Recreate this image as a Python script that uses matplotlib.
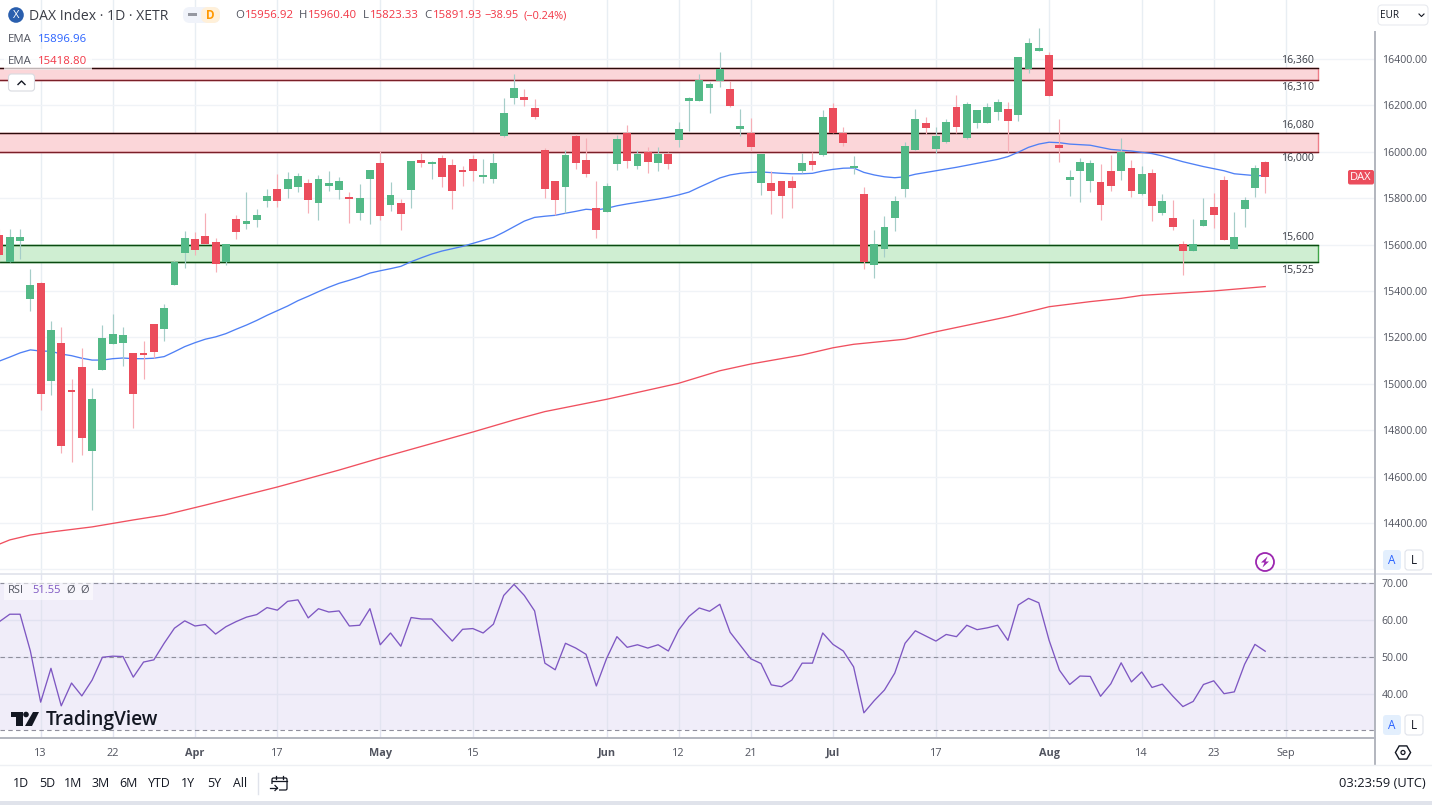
import matplotlib
matplotlib.use("Agg")
import math
import matplotlib.pyplot as plt
from matplotlib.patches import Rectangle, Circle, FancyBboxPatch, Polygon, RegularPolygon
from matplotlib.lines import Line2D
from matplotlib.transforms import Affine2D

plt.rcParams['font.family'] = ['Open Sans', 'DejaVu Sans']

# ---------------- data ----------------
opens = [15641,15525,15615,15365,15434,15012,15176,14973,15072,14710,
         15059,15171,15176,15133,15133,15258,15236,15426,15564,15624,
         15637,15611,15525,15710,15689,15706,15788,15839,15839,15848,
         15865,15779,15852,15835,15805,15736,15883,15951,15770,15779,
         15835,15964,15947,15973,15943,15917,15969,15891,15883,16068,
         16232,16236,16188,16008,15874,15848,16068,15964,15757,15740,
         15947,16081,15939,15999,15951,15990,16051,16219,16219,16275,
         16305,16270,16098,16081,15865,15865,15874,15874,15917,15960,
         15986,16188,16081,15930,15818,15512,15581,15714,15839,16008,
         16124,16012,16042,16193,16059,16124,16124,16171,16184,16158,
         16357,16434,16417,16029,15878,15917,15874,15870,15917,15917,
         15930,15818,15908,15736,15714,15602,15572,15680,15762,15878,
         15581,15753,15844,15956.92]
highs = [15667,15667,15667,15495,15439,15271,15245,15020,15154,14982,
         15253,15301,15245,15133,15184,15258,15344,15533,15658,15654,
         15736,15628,15602,15727,15826,15753,15839,15904,15913,15908,
         15883,15900,15917,15891,15826,15861,15921,16003,15870,15796,
         15960,15995,15960,15986,15969,15939,15986,15969,15995,16232,
         16335,16270,16227,16016,15874,16008,16076,16059,15874,15865,
         16072,16115,16008,16020,16020,15999,16128,16236,16335,16301,
         16430,16305,16184,16145,15990,15917,15874,15895,15995,15999,
         16180,16210,16107,15982,15848,15663,15723,15809,16042,16184,
         16150,16107,16141,16245,16214,16180,16210,16227,16214,16408,
         16490,16533,16430,16141,15921,15973,15964,15947,15986,16059,
         15964,15939,15926,15818,15792,15615,15710,15801,15822,15895,
         15740,15805,15943,15960.40]
lows = [15525,15525,15538,15314,14887,14952,14702,14663,14693,14456,
        15059,15171,15077,14809,15020,15111,15184,15426,15499,15555,
        15602,15482,15512,15624,15667,15676,15762,15762,15801,15826,
        15736,15706,15831,15796,15693,15706,15689,15706,15745,15663,
        15757,15934,15883,15848,15753,15852,15874,15865,15865,16064,
        16206,16197,16141,15801,15727,15736,15926,15891,15628,15740,
        15921,15930,15926,15908,15917,15926,16020,16089,16219,16167,
        16279,16193,16068,16003,15814,15732,15714,15757,15908,15921,
        15982,16081,16025,15904,15495,15456,15546,15658,15805,16008,
        16076,15995,16038,16081,16055,16102,16124,16137,15999,16132,
        16339,16434,16240,15956,15809,15783,15826,15706,15831,15878,
        15805,15814,15701,15727,15663,15469,15572,15680,15671,15620,
        15581,15676,15805,15823.33]
closes = [15555,15632,15632,15426,14956,15232,14732,14965,14766,14934,
          15197,15214,15210,14956,15124,15137,15327,15525,15628,15576,
          15602,15516,15602,15654,15701,15727,15809,15788,15883,15895,
          15792,15883,15865,15874,15796,15801,15921,15723,15814,15732,
          15960,15951,15956,15891,15831,15913,15917,15900,15951,16167,
          16275,16223,16150,15839,15792,15986,15951,15904,15663,15852,
          16055,15960,15990,15956,15990,15947,16098,16232,16309,16292,
          16357,16197,16111,16020,15990,15831,15809,15844,15951,15943,
          16150,16081,16038,15934,15525,15602,15676,15788,16025,16141,
          16102,16068,16128,16107,16206,16180,16193,16214,16132,16408,
          16469,16447,16240,16016,15891,15956,15951,15770,15852,15999,
          15831,15904,15766,15788,15676,15572,15602,15706,15727,15620,
          15632,15792,15930,15891.93]

ema_blue_idx = [0,1,2,3,4,5,6,7,8,9,10,11,12,13,14,15,16,17,18,19,
                20,21,22,23,24,25,26,27,28,29,30,31,32,33,34,35,36,37,38,39,
                40,41,42,43,44,45,46,47,48,49,50,51,52,53,54,55,56,57,58,59,
                60,61,62,63,64,65,66,67,68,69,70,71,72,73,74,75,76,77,78,79,
                80,81,82,83,84,85,86,87,88,89,91,93,95,97,98,99,100,101,102,103,
                104,106,108,110,112,113,115,117,119,120,122,123]
ema_blue = [15098,15115,15133,15146,15141,15140,15128,15121,15110,15102,15102,15108,15111,15108,15108,15110,15117,15138,15160,15177,
            15192,15202,15216,15235,15253,15273,15295,15315,15335,15358,15377,15397,15416,15433,15446,15460,15477,15487,15496,15506,
            15526,15543,15559,15572,15582,15592,15605,15618,15631,15653,15677,15701,15717,15722,15726,15735,15743,15752,15749,15756,
            15767,15775,15782,15789,15796,15804,15814,15826,15847,15867,15887,15900,15907,15911,15913,15910,15907,15905,15905,15907,
            15917,15924,15929,15930,15911,15900,15892,15888,15892,15903,15918,15933,15950,15967,15979,15998,16019,16033,16041,16039,
            16033,16028,16010,16003,15992,15982,15957,15936,15918,15905,15897,15896.96]
ema_red_idx = [0,1,3,5,9,13,16,20,27,33,37,46,50,53,59,66,70,73,78,81,83,88,91,98,101,102,106,109,111,115,118,123]
ema_red = [14309,14327,14348,14361,14383,14413,14434,14477,14555,14628,14680,14792,14844,14880,14933,15002,15056,15085,15124,15155,
           15170,15192,15224,15289,15321,15332,15354,15368,15381,15392,15400,15418.80]

rsi = [59.6,61.6,61.6,51.6,37.7,46.9,36.7,42.9,39.4,43.7,
       49.9,50.2,50.1,44.5,48.6,49.2,53.7,57.8,59.8,58.4,
       58.8,56.2,58.2,59.6,60.8,61.5,63.4,62.7,65.1,65.5,
       60.6,63.1,62.2,62.5,58.4,58.6,63.1,53.3,56.5,52.9,
       60.7,60.3,60.3,57.3,54.3,57.5,57.7,56.5,58.9,66.7,
       69.7,66.7,62.5,48.3,46.5,53.7,52.4,50.7,42.1,49.6,
       55.5,52.6,53.3,52.4,53.3,51.6,57.3,61.0,63.3,62.4,
       64.3,56.7,53.1,49.5,48.2,42.4,41.9,43.7,48.3,48.3,
       56.5,53.4,51.6,47.3,34.8,38.1,41.0,45.6,53.7,57.1,
       55.7,54.3,56.1,55.5,58.6,57.4,57.9,58.6,54.5,64.1,
       65.9,64.7,54.5,46.4,42.5,44.8,44.7,39.3,42.7,48.4,
       43.2,45.9,41.7,42.6,39.4,36.5,37.9,42.5,43.5,40.0,
       40.5,48.0,53.4,51.55]

zones_red = [(16310, 16360), (16000, 16080)]
zones_green = [(15525, 15600)]
zone_labels = [16360, 16310, 16080, 16000, 15600, 15525]
price_ticks = [14200,14400,14600,14800,15000,15200,15400,15600,15800,16000,16200,16400]
rsi_ticks = [40, 50, 60, 70]
rsi_levels = [30, 50, 70]
date_idx = [4, 11, 19, 27, 37, 46, 59, 66, 73, 81, 91, 102, 111, 118, 125]
date_labels = ['13', '22', 'Apr', '17', 'May', '15', 'Jun', '12', '21', 'Jul', '17', 'Aug', '14', '23', 'Sep']
bold_labels = ['Apr', 'May', 'Jun', 'Jul', 'Aug']
ranges = ['1D', '5D', '1M', '3M', '6M', 'YTD', '1Y', '5Y', 'All']

# ---------------- colours ----------------
UP = '#53b987'; DOWN = '#eb4d5c'
UP_W = '#a5cdc8'; DOWN_W = '#f6aeb6'
GRID = '#f0f3f7'; TXT = '#50535e'; DARK = '#131722'
PURPLE = '#7e57c2'; BLUE = '#2962ff'; RED = '#f23645'

W, H = 1432, 805
fig = plt.figure(figsize=(W/100, H/100), dpi=100, facecolor='white')

def rect_px(l, t, r, b):
    return [l/W, 1-b/H, (r-l)/W, (b-t)/H]
def fx(x): return x/W
def fy(y): return 1-y/H

ax = fig.add_axes(rect_px(0, 0, 1375, 574))
rx = fig.add_axes(rect_px(0, 574, 1375, 738))
XMIN, XMAX = 0.0486, 133.67
ZONE_END = 128.1
ax.set_xlim(XMIN, XMAX); ax.set_ylim(14180, 16654)
rx.set_xlim(XMIN, XMAX); rx.set_ylim(27.96, 72.53)

for a in (ax, rx):
    for s in a.spines.values():
        s.set_visible(False)
    a.yaxis.tick_right()
    a.tick_params(axis='both', length=0, labelcolor=TXT, labelsize=7.6)
    a.set_xticks(date_idx)
    a.grid(True, axis='x', color='#e8eef3', lw=1)
    a.set_axisbelow(True)

ax.set_xticklabels([])
ax.set_yticks(price_ticks)
ax.set_yticklabels(['' if t == 14200 else f'{t:.2f}' for t in price_ticks])
ax.tick_params(axis='y', pad=4.8)
ax.grid(True, axis='y', color=GRID, lw=1)

# zones
for lo, hi in zones_red:
    ax.add_patch(Rectangle((XMIN-2, lo), ZONE_END-XMIN+2, hi-lo, fc='#fbd6d9', ec='#ee7d88', lw=1, zorder=1.2))
    ax.plot([XMIN, ZONE_END], [hi, hi], color='#2b0a0a', lw=1.0, zorder=1.3)
    ax.plot([XMIN, ZONE_END], [lo, lo], color='#7a1f28', lw=1.0, zorder=1.3)
for lo, hi in zones_green:
    ax.add_patch(Rectangle((XMIN-2, lo), ZONE_END-XMIN+2, hi-lo, fc='#cfeed2', ec='#3fa648', lw=1, zorder=1.2))
    ax.plot([XMIN, ZONE_END], [hi, hi], color='#0b4a12', lw=1.0, zorder=1.3)
    ax.plot([XMIN, ZONE_END], [lo, lo], color='#0b4a12', lw=1.0, zorder=1.3)

# EMAs
ax.plot(ema_blue_idx, ema_blue, color='#4f80f5', lw=0.95, zorder=2)
ax.plot(ema_red_idx, ema_red, color='#f0505f', lw=0.95, zorder=2)

# candles
xs = list(range(len(opens)))
for i in xs:
    o, h, l, c = opens[i], highs[i], lows[i], closes[i]
    up = c >= o
    ax.vlines(i, l, h, color=UP_W if up else DOWN_W, lw=0.85, zorder=3)
    ax.bar(i, max(abs(c-o), 7), bottom=min(o, c), width=0.76,
           color=UP if up else DOWN, lw=0, zorder=4)

label_y = {16360: 16392, 16310: 16275, 16080: 16111, 16000: 15969, 15600: 15631, 15525: 15489}
for v in zone_labels:
    ax.text(126.15, label_y[v], f'{v:,}', ha='center', va='center', fontsize=7.6, color='#3a3d46', zorder=6)

# RSI pane
rx.axhspan(30, 70, color='#f0edf9', lw=0, zorder=0.5)
rx.set_yticks(rsi_ticks)
rx.set_yticklabels([f'{t:.2f}' for t in rsi_ticks])
rx.tick_params(axis='y', pad=4.8)
rx.grid(True, axis='y', color='#e2e2f1', lw=1)
rx.grid(True, axis='x', color='#e2e4f0', lw=1)
for lvl in rsi_levels:
    rx.axhline(lvl, color='#8f8f9c', lw=0.8, ls=(0, (4, 3)), zorder=1.5)
rx.plot(xs, rsi, color=PURPLE, lw=0.95, zorder=3)

rx.set_xticklabels(date_labels)
rx.tick_params(axis='x', pad=7)
for tl in rx.get_xticklabels():
    tl.set_fontsize(7.8)
    tl.set_color(TXT)
    if tl.get_text() in bold_labels:
        tl.set_fontweight('bold')

# ---------------- chrome ----------------
px_tr = Affine2D()  # display pixels

def T(x, y, s, color=TXT, size=8, ha='left', weight='normal', **kw):
    return fig.text(fx(x), fy(y), s, color=color, fontsize=size, ha=ha, va='center', fontweight=weight, **kw)

def add_rect(l, t, r, b, fc, ec='none', lw=0, alpha=None, z=8):
    fig.add_artist(Rectangle((fx(l), fy(b)), (r-l)/W, (b-t)/H, fc=fc, ec=ec, lw=lw, alpha=alpha,
                             transform=fig.transFigure, zorder=z))

def add_round(l, t, r, b, fc, ec='none', lw=0.8, rad=3, z=8):
    fig.add_artist(FancyBboxPatch((l, H-b), r-l, b-t, boxstyle=f'round,pad=0,rounding_size={rad}',
                                  fc=fc, ec=ec, lw=lw, transform=px_tr, zorder=z))

def add_line(x0, y0, x1, y1, color, lw=1, z=9):
    fig.add_artist(Line2D([fx(x0), fx(x1)], [fy(y0), fy(y1)], color=color, lw=lw,
                          transform=fig.transFigure, zorder=z))

def poly(points, fc=DARK, z=10):
    fig.add_artist(Polygon([(fx(x), fy(y)) for x, y in points], closed=True, fc=fc, ec='none',
                           transform=fig.transFigure, zorder=z))

# pane separators
add_line(0, 574, 1432, 574, '#e0e3eb', 1.2)
add_line(0, 738, 1375, 738, '#b2b5be', 1.4)
add_line(1375, 32, 1375, 765, '#b2b5be', 1.4)
add_line(0, 765, 1432, 765, '#eef0f4', 1)
add_rect(0, 801, 1432, 805, '#e0e3eb')

# header
fig.add_artist(Circle((16, H-15), 7.8, fc='#2a5fae', ec='none', transform=px_tr, zorder=9))
T(16, 15, 'X', color='white', size=8, ha='center', zorder=10)
T(29, 16, 'DAX Index · 1D · XETR', color='#3a3d46', size=10.1, zorder=10)
add_round(183, 7, 220, 23, '#f0f3fa', rad=7)
add_round(201, 7, 220, 23, '#fff0d9', rad=7, z=8.5)
add_rect(188, 13.5, 197, 16.5, '#9598a1', z=9)
T(210, 15.5, 'D', color='#ff9800', size=8.5, ha='center', weight='bold', zorder=10)
ohlc = [(235, 'O', '15956.92', 245), (299, 'H', '15960.40', 308), (363, 'L', '15823.33', 370), (424, 'C', '15891.93', 433)]
for xl, lab, val, xv in ohlc:
    T(xl, 16, lab, color=TXT, size=8.2, zorder=10)
    T(xv, 16, val, color=RED, size=8.2, zorder=10)
T(484, 16, '−38.95', color=RED, size=7.9, zorder=10)
T(523, 16, '(−0.24%)', color=RED, size=7.9, zorder=10)

# legend rows
add_rect(4, 49, 92, 70, 'white', alpha=0.7, z=7)
T(8, 39.2, 'EMA', size=8.2, zorder=10)
T(38, 39.2, '15896.96', color=BLUE, size=8.2, zorder=10)
T(8, 61.2, 'EMA', size=8.2, zorder=10)
T(38, 61.2, '15418.80', color=RED, size=8.2, zorder=10)
add_round(8.5, 74, 34.5, 91, 'white', ec='#d8dae0', rad=3)
fig.add_artist(Line2D([fx(18), fx(21.5), fx(25)], [fy(84.5), fy(81), fy(84.5)], color=DARK, lw=1,
                      transform=fig.transFigure, zorder=10))

add_rect(4, 580, 93, 600, 'white', alpha=0.55, z=7)
T(8, 590.5, 'RSI', size=8, zorder=10)
T(32, 590.5, '51.55', color=PURPLE, size=8, zorder=10)
T(66, 590.5, 'Ø', size=8, zorder=10)
T(80, 590.5, 'Ø', size=8, zorder=10)

# TradingView logo
poly([(11, 712), (23, 712), (23, 726), (16, 726), (16, 717), (11, 717)])
fig.add_artist(Circle((26, H-714.5), 2.8, fc=DARK, ec='none', transform=px_tr, zorder=10))
poly([(33, 712), (39, 712), (32, 726), (25, 726)])
T(46, 719.5, 'TradingView', color=DARK, size=13.8, weight='semibold', zorder=10)

# right side
add_round(1378, 5, 1428, 25, 'white', ec='#e8eaef', rad=4)
T(1380, 15.5, 'EUR', color=DARK, size=7.2, zorder=10)
fig.add_artist(Line2D([fx(1419), fx(1421.5), fx(1424)], [fy(14), fy(16.5), fy(14)], color=DARK, lw=0.8,
                      transform=fig.transFigure, zorder=10))
add_round(1348, 170, 1374, 184.5, DOWN, rad=2)
T(1361, 177.8, 'DAX', color='white', size=8, ha='center', zorder=10)

for top in (550, 715):
    add_round(1383, top, 1401, top+20, '#e3effd', rad=3)
    T(1392, top+10.5, 'A', color=BLUE, size=8.5, ha='center', zorder=10)
    add_round(1405, top, 1423, top+20, 'white', ec='#e0e3eb', rad=3)
    T(1414, top+10.5, 'L', color=DARK, size=8.5, ha='center', zorder=10)

# lightning badge
fig.add_artist(Circle((1265, H-562), 9, fc='white', ec='#9c27b0', lw=1.3, transform=px_tr, zorder=9))
poly([(1267.5, 556.5), (1261, 562.5), (1264.5, 562.5), (1262.5, 567.5), (1269, 561.5), (1265.5, 561.5)], fc='#9c27b0')

# settings hexagon
fig.add_artist(RegularPolygon((1403, H-752.5), 6, radius=7.6, orientation=math.pi/6, fc='white', ec=DARK, lw=1,
                              transform=px_tr, zorder=9))
fig.add_artist(Circle((1403, H-752.5), 2, fc='white', ec=DARK, lw=0.9, transform=px_tr, zorder=10))

# bottom toolbar
range_x = [21, 47, 73, 101, 128, 159, 188, 214, 240]
for x, r in zip(range_x, ranges):
    T(x, 783.5, r, color=DARK, size=8.9, ha='center', zorder=10)
add_line(257.5, 773, 257.5, 794, '#e0e3eb', 1)
# calendar icon
add_round(272, 778, 287, 790, 'white', ec=DARK, lw=0.9, rad=1.5)
add_line(272, 781, 287, 781, DARK, 0.9, z=10)
add_line(276, 775.5, 276, 779, DARK, 0.9, z=10)
add_line(283, 775.5, 283, 779, DARK, 0.9, z=10)
add_rect(269, 783.5, 279, 792, 'white', z=9)
add_line(270, 788, 277, 788, DARK, 0.9, z=10)
fig.add_artist(Line2D([fx(275), fx(277.5), fx(275)], [fy(785.5), fy(788), fy(790.5)], color=DARK, lw=0.9,
                      transform=fig.transFigure, zorder=10))
T(1426, 783.5, '03:23:59 (UTC)', color=DARK, size=9.3, ha='right', zorder=10)

fig.savefig('out.png', dpi=100, facecolor='white')
